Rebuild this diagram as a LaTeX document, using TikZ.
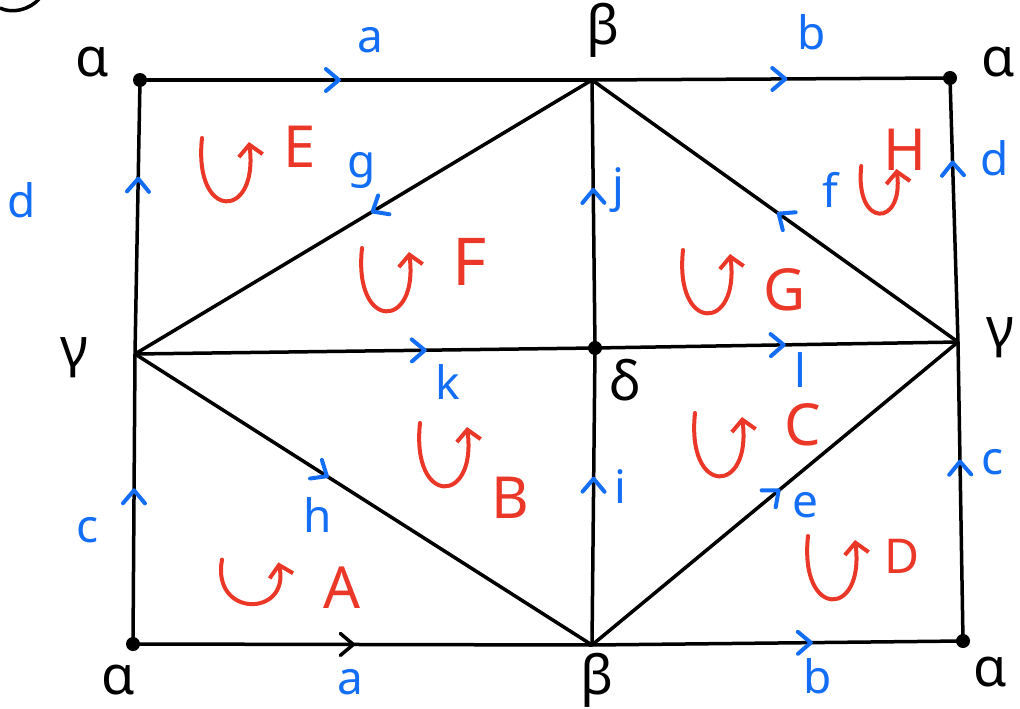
\documentclass[tikz,border=0pt]{standalone}
\usepackage{fontspec}
\setmainfont{Noto Sans}
\usetikzlibrary{decorations.markings,arrows.meta}
\definecolor{inkblue}{RGB}{20,110,245}
\definecolor{inkred}{RGB}{235,55,40}
\tikzset{
  edge/.style={line width=3.5pt,black},
  chevline/.style={line width=4pt,inkblue,line cap=round,line join=round},
  chev/.style={postaction={decorate,decoration={markings,mark=at position #1 with {\draw[chevline] (-13pt,11pt)--(0pt,0pt)--(-13pt,-11pt);}}}},
  chevblack/.style={postaction={decorate,decoration={markings,mark=at position #1 with {\draw[line width=3.5pt,black,line cap=round] (-13pt,11pt)--(0pt,0pt)--(-13pt,-11pt);}}}},
  vdot/.style={circle,fill=black,inner sep=0pt,minimum size=14pt},
  vpt/.style={inner sep=0pt,minimum size=0pt},
  blab/.style={text=inkblue,font=\fontsize{46}{50}\selectfont,inner sep=0pt},
  rlab/.style={text=inkred,font=\fontsize{58}{64}\selectfont,inner sep=0pt},
  klab/.style={text=black,font=\fontsize{54}{60}\selectfont,inner sep=0pt},
  rot/.pic={\draw[line width=4pt,inkred,line cap=round,-{Straight Barb[length=11pt,width=24pt,line width=4pt]}] (-25,-32) .. controls (-34,52) and (32,50) .. (22,-28);}
}
\begin{document}
\begin{tikzpicture}[x=1pt,y=-1pt]
\path[use as bounding box] (0,0) rectangle (1020,709);
% vertices
\node[vdot] (TL) at (140,80) {};
\node[vpt] (BT) at (592,80) {};
\node[vdot] (TR) at (950,78) {};
\node[vpt] (GL) at (135,354) {};
\node[vdot] (D) at (595,348) {};
\node[vpt] (GR) at (958,342) {};
\node[vdot] (BL) at (133,644) {};
\node[vpt] (BB) at (592,645) {};
\node[vdot] (BR) at (963,641) {};
% edges
\draw[edge,chev=0.44] (TL.center) -- (BT.center);
\draw[edge,chev=0.54] (BT.center) -- (TR.center);
\draw[edge,chev=0.64] (GL.center) -- (TL.center);
\draw[edge,chev=0.53] (BL.center) -- (GL.center);
\draw[edge,chev=0.68] (GR.center) -- (TR.center);
\draw[edge,chev=0.60] (BR.center) -- (GR.center);
\draw[edge,chevblack=0.48] (BL.center) -- (BB.center);
\draw[edge,chev=0.59] (BB.center) -- (BR.center);
\draw[edge,chev=0.48] (BT.center) -- (GL.center);
\draw[edge,chev=0.49] (GR.center) -- (BT.center);
\draw[edge,chev=0.42] (GL.center) -- (BB.center);
\draw[edge,chev=0.51] (BB.center) -- (GR.center);
\draw[edge,chev=0.63] (GL.center) -- (D.center);
\draw[edge,chev=0.52] (D.center) -- (GR.center);
\draw[edge,chev=0.59] (D.center) -- (BT.center);
\draw[edge,chev=0.56] (BB.center) -- (D.center);
% partial circle at top-left
\draw[line width=3.5pt,black] (0,8) .. controls (12,14) and (30,10) .. (40,-2);
% black vertex labels
\node[klab] (lTL) at (92,62) {α};
\node[klab] (lBT) at (603,30) {β};
\node[klab] (lTR) at (998,62) {α};
\node[klab] (lGL) at (74,358) {γ};
\node[klab] (lD) at (625,380) {δ};
\node[klab] (lGR) at (1000,338) {γ};
\node[klab] (lBL) at (118,680) {α};
\node[klab] (lBB) at (597,680) {β};
\node[klab] (lBR) at (990,672) {α};
% blue edge labels
\node[blab] (ea1) at (370,40) {a};
\node[blab] (eb1) at (812,32) {b};
\node[blab] (ed1) at (22,200) {d};
\node[blab] (ed2) at (995,158) {d};
\node[blab] (eg) at (362,170) {g};
\node[blab] (ej) at (618,190) {j};
\node[blab] (ef) at (830,190) {f};
\node[blab] (ek) at (448,382) {k};
\node[blab] (el) at (800,370) {l};
\node[blab] (ec1) at (88,530) {c};
\node[blab] (ec2) at (993,462) {c};
\node[blab] (eh) at (318,515) {h};
\node[blab] (ei) at (620,487) {i};
\node[blab] (ee) at (805,505) {e};
\node[blab] (ea2) at (350,682) {a};
\node[blab] (eb2) at (818,676) {b};
% red face labels
\node[rlab] (fE) at (300,147) {E};
\node[rlab,font=\fontsize{66}{70}\selectfont] (fF) at (470,262) {F};
\node[rlab] (fG) at (785,290) {G};
\node[rlab] (fH) at (905,150) {H};
\node[rlab] (fA) at (342,588) {A};
\node[rlab] (fB) at (510,498) {B};
\node[rlab] (fC) at (803,425) {C};
\node[rlab,font=\fontsize{48}{52}\selectfont] (fD) at (902,556) {D};
% orientation arrows
\pic at (227,170) {rot};
\pic at (387,280) {rot};
\pic at (708,282) {rot};
\pic[scale=0.75] at (880,190) {rot};
\pic[xscale=1.2,yscale=0.7] at (252,582) {rot};
\pic at (445,455) {rot};
\pic at (720,445) {rot};
\pic at (833,568) {rot};
\end{tikzpicture}
\end{document}
